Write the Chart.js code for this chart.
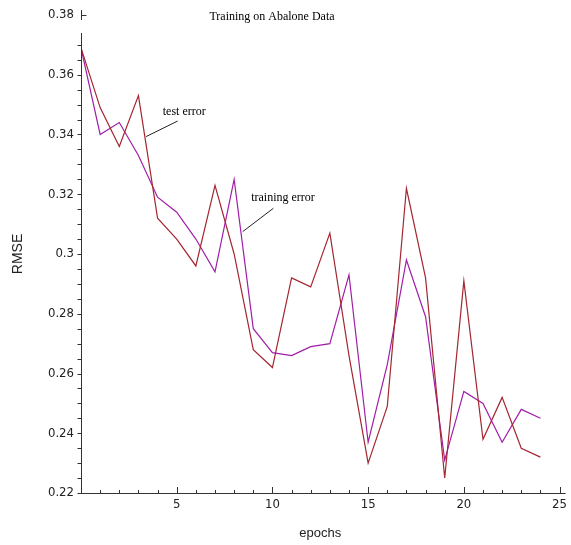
<!DOCTYPE html>
<html>
<head>
<meta charset="utf-8">
<script src="https://cdn.jsdelivr.net/npm/chart.js@4/dist/chart.umd.min.js"></script>
<style>
  html, body { margin: 0; padding: 0; background: #fff; }
  #wrap { width: 571px; height: 545px; }
</style>
</head>
<body>
<div id="wrap"><canvas id="myChart" width="571" height="545"></canvas></div>
<script>
// Chart data
const epochs = [0, 1, 2, 3, 4, 5, 6, 7, 8, 9, 10, 11, 12, 13, 14, 15, 16, 17, 18, 19, 20, 21, 22, 23, 24];
const testError = [0.369, 0.349, 0.336, 0.353, 0.312, 0.305, 0.296, 0.323, 0.300, 0.268, 0.262, 0.292, 0.289, 0.307, 0.266,
                   0.230, 0.249, 0.322, 0.292, 0.225, 0.291, 0.238, 0.252, 0.235, 0.232];
const trainingError = [0.369, 0.340, 0.344, 0.333, 0.319, 0.314, 0.305, 0.294, 0.325, 0.275, 0.267, 0.266, 0.269, 0.270, 0.293,
                       0.237, 0.263, 0.298, 0.279, 0.231, 0.254, 0.250, 0.237, 0.248, 0.245];
const xTickLabels = ['5', '10', '15', '20', '25'];
const yTickLabels = ['0.22', '0.24', '0.26', '0.28', '0.3', '0.32', '0.34', '0.36', '0.38'];
const seriesNames = ['test error', 'training error'];
const chartTitle = 'Training on Abalone Data';

const axisColor = '#333';
const tickFont = { family: "'DejaVu Sans Condensed', 'Liberation Sans Narrow', 'Liberation Sans', sans-serif", size: 13 };

// Draws the title, inward/outward tick marks and the two leader-line labels
const decorations = {
    id: 'decorations',
    afterDraw(chart) {
        const c = chart.ctx;
        const xs = chart.scales.x;
        const ys = chart.scales.y;
        const area = chart.chartArea;
        c.save();

        // title
        c.fillStyle = '#000';
        c.font = "12px 'Liberation Serif', 'Times New Roman', serif";
        c.textAlign = 'center';
        c.textBaseline = 'middle';
        c.fillText(chartTitle, 272, 17);

        c.strokeStyle = axisColor;
        c.lineWidth = 1;

        // x axis runs a little past the last tick
        const axY = Math.round(area.bottom) + 0.5;
        c.beginPath();
        c.moveTo(area.left, axY);
        c.lineTo(area.right + 6, axY);
        c.stroke();

        // x ticks point up into the plot
        xs.ticks.forEach(function(t) {
            const px = Math.round(xs.getPixelForValue(t.value)) + 0.5;
            const len = t.value % 5 === 0 ? 6 : 3;
            c.beginPath();
            c.moveTo(px, area.bottom);
            c.lineTo(px, area.bottom - len);
            c.stroke();
        });

        // y axis line with a gap under the top tick
        const axX = Math.round(area.left) + 0.5;
        c.beginPath();
        c.moveTo(axX, ys.getPixelForValue(0.374));
        c.lineTo(axX, area.bottom);
        c.moveTo(axX, ys.getPixelForValue(0.38) - 5);
        c.lineTo(axX, ys.getPixelForValue(0.38) + 5);
        c.stroke();

        // y ticks point left
        ys.ticks.forEach(function(t) {
            const py = Math.round(ys.getPixelForValue(t.value)) + 0.5;
            const k = Math.round(t.value * 1000);
            c.beginPath();
            if (k === 380) {
                c.moveTo(axX, py);
                c.lineTo(axX + 5, py);
            } else if (k < 375) {
                c.moveTo(axX, py);
                c.lineTo(axX - 4, py);
            }
            c.stroke();
        });

        // leader-line labels, placed in data units
        c.font = "12px 'Liberation Serif', 'Times New Roman', serif";
        c.textAlign = 'left';
        c.fillStyle = '#000';
        c.strokeStyle = '#222';
        c.fillText(seriesNames[0], xs.getPixelForValue(4.27), ys.getPixelForValue(0.3475));
        c.beginPath();
        c.moveTo(xs.getPixelForValue(5.05), ys.getPixelForValue(0.3445));
        c.lineTo(xs.getPixelForValue(3.40), ys.getPixelForValue(0.3393));
        c.stroke();

        c.fillText(seriesNames[1], xs.getPixelForValue(8.89), ys.getPixelForValue(0.3187));
        c.beginPath();
        c.moveTo(xs.getPixelForValue(10.05), ys.getPixelForValue(0.3153));
        c.lineTo(xs.getPixelForValue(8.45), ys.getPixelForValue(0.3075));
        c.stroke();

        c.restore();
    }
};

const ctx = document.getElementById('myChart').getContext('2d');
const myChart = new Chart(ctx, {
    type: 'line',
    data: {
        datasets: [
            {
                label: seriesNames[0],
                data: epochs.map((e, i) => ({ x: e, y: testError[i] })),
                borderColor: '#a32630',
                borderWidth: 1.2,
                pointRadius: 0,
                tension: 0,
                fill: false,
            },
            {
                label: seriesNames[1],
                data: epochs.map((e, i) => ({ x: e, y: trainingError[i] })),
                borderColor: '#a21ea8',
                borderWidth: 1.2,
                pointRadius: 0,
                tension: 0,
                fill: false,
            },
        ],
    },
    options: {
        responsive: false,
        animation: false,
        layout: { padding: { top: 15, right: 10, left: 0, bottom: 0 } },
        plugins: {
            legend: { display: false },
            tooltip: { enabled: false },
        },
        scales: {
            x: {
                type: 'linear',
                min: 0,
                max: 25,
                grid: { display: false, drawTicks: false },
                border: { display: false },
                ticks: {
                    stepSize: 1,
                    autoSkip: false,
                    maxRotation: 0,
                    padding: 4,
                    color: '#222',
                    font: tickFont,
                    callback: function(value) {
                        const s = String(value);
                        return xTickLabels.includes(s) ? s : '';
                    },
                },
                title: {
                    display: true,
                    text: 'epochs',
                    color: '#222',
                    font: { family: "'Liberation Sans', Arial, sans-serif", size: 13 },
                    padding: { top: 0, bottom: 4 },
                },
                afterFit: function(scale) { scale.height = 52; },
            },
            y: {
                min: 0.22,
                max: 0.38,
                grid: { display: false, drawTicks: false },
                border: { display: false },
                ticks: {
                    stepSize: 0.005,
                    maxTicksLimit: 100,
                    autoSkip: false,
                    padding: 7,
                    color: '#222',
                    font: tickFont,
                    callback: function(value) {
                        const s = String(Math.round(value * 1000) / 1000);
                        return yTickLabels.includes(s) ? s : '';
                    },
                },
                title: {
                    display: true,
                    text: 'RMSE',
                    color: '#222',
                    font: { family: "'Liberation Sans', Arial, sans-serif", size: 14 },
                    padding: { top: 10, bottom: 0 },
                },
                afterFit: function(scale) { scale.width = 81; },
            }
        }
    },
    plugins: [decorations]
});
</script>
</body>
</html>
